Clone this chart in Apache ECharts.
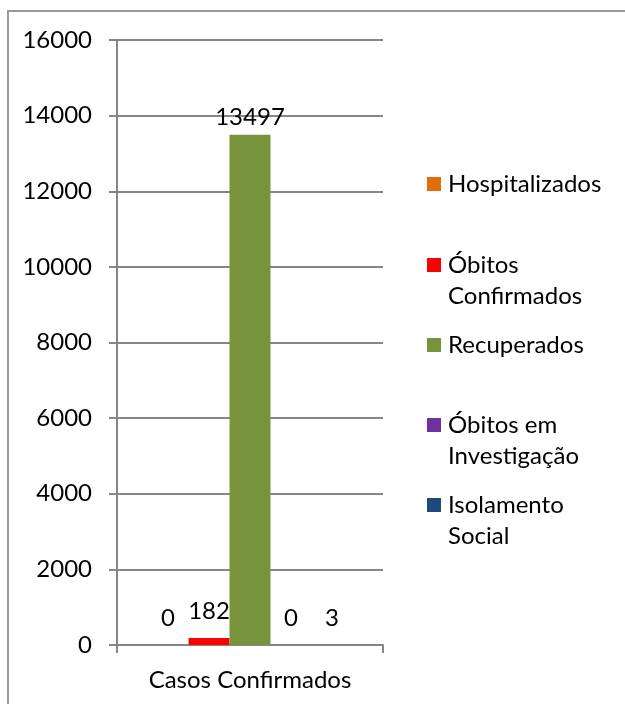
<!DOCTYPE html>
<html>
<head>
<meta charset="utf-8">
<script src="https://cdn.jsdelivr.net/npm/echarts@6/dist/echarts.min.js"></script>
<style>
  html, body { margin: 0; padding: 0; background: #fff; }
  #wrap { position: relative; width: 625px; height: 704px; }
  #chart { width: 625px; height: 704px; }
  #frame { position: absolute; left: 7px; top: 10px; right: 0; bottom: 0;
           border-left: 2px solid #9a9a9a; border-top: 2px solid #9a9a9a; pointer-events: none; }
</style>
</head>
<body>
<div id="wrap">
  <div id="chart"></div>
  <div id="frame"></div>
</div>
<script>
// data
var categories = ['Casos Confirmados'];
var seriesNames = ['Hospitalizados', 'Óbitos Confirmados', 'Recuperados', 'Óbitos em Investigação', 'Isolamento Social'];
var seriesValues = [[0], [182], [13497], [0], [3]];
var yTicks = [0, 2000, 4000, 6000, 8000, 10000, 12000, 14000, 16000];

var colors = ['#e46c0a', '#ff0000', '#77933c', '#7030a0', '#1f497d'];
// legend text as shown (line breaks as in the picture)
var legendText = {
  'Hospitalizados': 'Hospitalizados',
  'Óbitos Confirmados': '\nÓbitos\nConfirmados',
  'Recuperados': 'Recuperados',
  'Óbitos em Investigação': '\nÓbitos em\nInvestigação',
  'Isolamento Social': '\nIsolamento\nSocial'
};
var legendCenters = [184, 265, 345, 425, 505];
// excel pushes labels of tiny bars a bit higher
var labelDist = [15, 15, 5, 15, 15];

var font = 'Lato';
var fontSize = 24;
var lineH = 31;
var gray = '#868686';

var chart = echarts.init(document.getElementById('chart'));

var series = [];
for (var i in seriesNames) {
  series.push({
    name: seriesNames[i],
    type: 'bar',
    barGap: '0%',
    barCategoryGap: '23%',
    label: {
      show: true,
      position: 'top',
      distance: labelDist[i],
      color: '#000',
      fontFamily: font,
      fontSize: fontSize
    },
    itemStyle: { color: colors[i] },
    data: seriesValues[i]
  });
}

var legends = [];
for (var j in seriesNames) {
  var nLines = legendText[seriesNames[j]].split('\n').length;
  legends.push({
    data: [seriesNames[j]],
    orient: 'vertical',
    left: 427,
    top: legendCenters[j] - nLines * lineH / 2,
    padding: 0,
    itemWidth: 14,
    itemHeight: 14,
    icon: 'rect',
    selectedMode: false,
    formatter: function (name) { return legendText[name]; },
    textStyle: {
      fontFamily: font,
      fontSize: fontSize,
      color: '#000',
      lineHeight: lineH,
      padding: [0, 0, 0, 2]
    }
  });
}

var option = {
  animation: false,
  color: colors,
  textStyle: { fontFamily: font },
  legend: legends,
  grid: {
    left: 117,
    right: 242,
    top: 40,
    bottom: 59
  },
  xAxis: {
    type: 'category',
    data: categories,
    axisLine: { show: true, lineStyle: { color: gray, width: 2 } },
    axisTick: { show: true, length: 8, lineStyle: { color: gray, width: 2 } },
    axisLabel: { color: '#000', fontFamily: font, fontSize: fontSize, margin: 23 },
    splitLine: { show: false }
  },
  yAxis: {
    type: 'value',
    min: yTicks[0],
    max: yTicks[yTicks.length - 1],
    interval: yTicks[1] - yTicks[0],
    axisLine: { show: true, lineStyle: { color: gray, width: 2 } },
    axisTick: { show: true, length: 8, lineStyle: { color: gray, width: 2 } },
    axisLabel: {
      color: '#000', fontFamily: font, fontSize: fontSize, margin: 25,
      formatter: function (v) { return String(v); }
    },
    splitLine: { show: true, lineStyle: { color: gray, width: 2 } }
  },
  series: series
};

chart.setOption(option);
</script>
</body>
</html>
